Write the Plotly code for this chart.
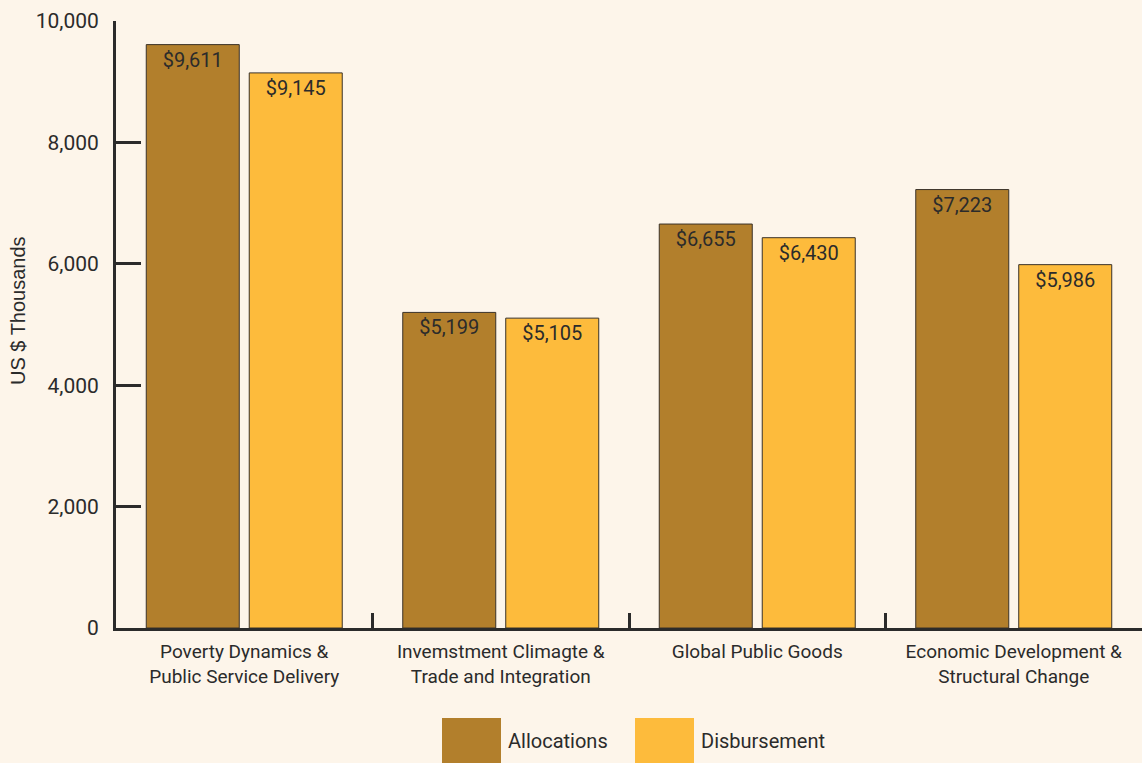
import plotly.graph_objects as go

# Category labels (line breaks as printed under the axis)
categories = [
    "Poverty Dynamics &<br>Public Service Delivery",
    "Invemstment Climagte &<br>Trade and Integration",
    "Global Public Goods",
    "Economic Development &<br>Structural Change",
]
allocations = [9611, 5199, 6655, 7223]
disbursement = [9145, 5105, 6430, 5986]
y_ticks = [0, 2000, 4000, 6000, 8000, 10000]
y_tick_labels = ["0", "2,000", "4,000", "6,000", "8,000", "10,000"]

BG = "#fdf5ea"
INK = "#2b2b2b"
ALLOC_COLOR = "#b27f2c"
DISB_COLOR = "#fdbb3c"
FACE = "Roboto, sans-serif"

def money(v):
    return "${:,}".format(v)

fig = go.Figure()
for name, vals, color in [("Allocations", allocations, ALLOC_COLOR),
                          ("Disbursement", disbursement, DISB_COLOR)]:
    fig.add_trace(go.Bar(
        x=categories, y=vals, name=name,
        marker=dict(color=color, line=dict(color="#3a3228", width=1)),
        text=[money(v) for v in vals],
        textposition="inside", insidetextanchor="end", textangle=0,
        constraintext="none",
        textfont=dict(family=FACE, size=20, color=INK),
        showlegend=False,
    ))

# Legend drawn as large swatches beneath the chart
legend_items = [("Allocations", ALLOC_COLOR, 442), ("Disbursement", DISB_COLOR, 635)]
PLOT_L, PLOT_W, PLOT_B, PLOT_H = 116, 1026, 628, 607
shapes, annotations = [], []
for label, color, px in legend_items:
    x0 = (px - PLOT_L) / PLOT_W
    x1 = (px + 59 - PLOT_L) / PLOT_W
    y0 = (PLOT_B - 718) / PLOT_H
    y1 = (PLOT_B - 770) / PLOT_H
    shapes.append(dict(type="rect", xref="paper", yref="paper",
                       x0=x0, x1=x1, y0=y1, y1=y0,
                       fillcolor=color, line=dict(width=0), layer="above"))
    annotations.append(dict(xref="paper", yref="paper",
                            x=(px + 64 - PLOT_L) / PLOT_W, y=(PLOT_B - 741) / PLOT_H,
                            xanchor="left", yanchor="middle", showarrow=False,
                            text=label, font=dict(family=FACE, size=20, color=INK)))

annotations.append(dict(xref="paper", yref="paper", x=(18 - PLOT_L) / PLOT_W,
                        y=(PLOT_B - 311) / PLOT_H,
                        xanchor="center", yanchor="middle", showarrow=False,
                        textangle=-90, text="US $ Thousands",
                        font=dict(family="Liberation Sans, Arial, sans-serif", size=20, color=INK)))

fig.update_layout(
    width=1142, height=763,
    margin=dict(l=PLOT_L, r=0, t=21, b=763 - PLOT_B, autoexpand=False),
    paper_bgcolor=BG, plot_bgcolor=BG,
    barmode="group", bargap=0.197, bargroupgap=0.097,
    shapes=shapes, annotations=annotations,
    font=dict(family=FACE, color=INK),
)
fig.update_xaxes(
    range=[-0.5, 3.5], showline=True, linecolor=INK, linewidth=3,
    ticks="inside", tickson="boundaries", ticklen=15, tickwidth=2.5, tickcolor=INK,
    tickangle=0, automargin=False, ticklabelstandoff=4,
    tickfont=dict(family=FACE, size=19, color=INK), showgrid=False,
)
fig.update_yaxes(
    range=[0, 10000], tickvals=y_ticks, ticktext=y_tick_labels,
    showline=True, linecolor=INK, linewidth=3, automargin=False,
    ticks="inside", ticklen=25, tickwidth=2.5, tickcolor=INK,
    ticklabelstandoff=10,
    tickfont=dict(family=FACE, size=21, color=INK), showgrid=False, zeroline=False,
)

fig.write_html("out.html")
